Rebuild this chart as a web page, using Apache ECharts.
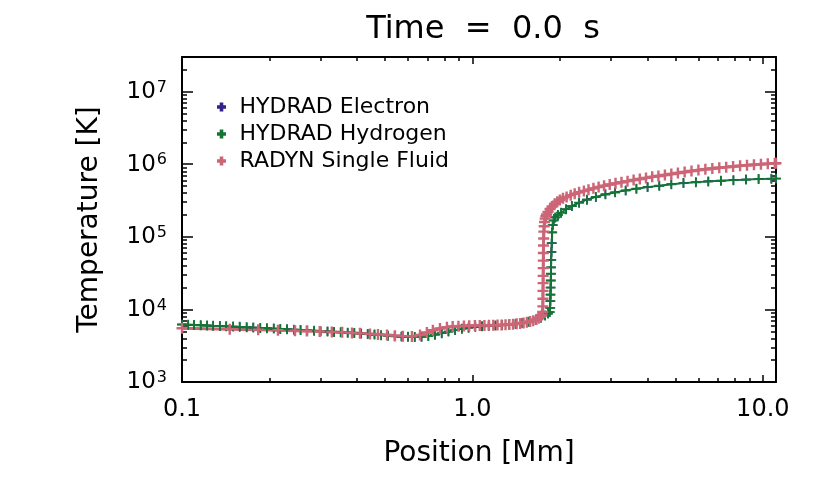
<!DOCTYPE html>
<html>
<head>
<meta charset="utf-8">
<script src="https://cdn.jsdelivr.net/npm/echarts@6/dist/echarts.min.js"></script>
<style>
html,body{margin:0;padding:0;background:#fff;}
#chart{width:830px;height:498px;}
</style>
</head>
<body>
<div id="chart"></div>
<script>
// ---------------- data ----------------
const titleText = 'Time  =  0.0  s';
const seriesNames = ['HYDRAD Electron', 'HYDRAD Hydrogen', 'RADYN Single Fluid'];

// HYDRAD grid positions [Mm]
const hydradPos = [0.100,0.105,0.110,0.116,0.122,0.128,0.135,0.142,0.150,0.158,
  0.167,0.176,0.186,0.196,0.207,0.218,0.230,0.243,0.256,0.270,
  0.285,0.300,0.317,0.334,0.352,0.372,0.392,0.414,0.436,0.460,
  0.485,0.512,0.540,0.570,0.600,0.633,0.668,0.705,0.743,0.784,
  0.827,0.872,0.920,0.970,1.023,1.079,1.138,1.200,1.266,1.335,
  1.408,1.485,1.566,1.652,1.720,1.780,1.820,1.845,
  1.852,1.855,1.857,1.859,1.861,1.863,1.865,1.868,1.871,1.875,
  1.882,1.890,1.905,1.930,1.970,2.020,2.100,2.200,2.330,2.480,
  2.660,2.870,3.100,3.370,3.670,4.010,4.400,4.840,5.330,5.880,
  6.490,7.170,7.920,8.750,9.670,10.70,11.10];
// HYDRAD hydrogen temperature [K]
const hydradHydrogenT = [6200,6150,6100,6050,6000,5950,5900,5850,5800,5750,
  5680,5620,5560,5500,5440,5380,5320,5260,5200,5140,
  5080,5020,4960,4900,4840,4780,4720,4650,4580,4500,
  4420,4340,4270,4220,4190,4180,4200,4300,4480,4700,
  4950,5200,5420,5600,5750,5850,5930,6000,6080,6180,
  6300,6480,6750,7150,7650,8250,8750,9200,
  10500,13000,16000,20000,25000,31000,38000,48000,62000,82000,
  115000,145000,168000,185000,200000,215000,240000,265000,295000,325000,
  355000,385000,410000,435000,460000,485000,505000,530000,550000,565000,
  580000,592000,603000,615000,625000,632000,635000];
// HYDRAD electron temperature [K] (identical to hydrogen at t = 0, hidden beneath it)
const hydradElectronT = [6200,6150,6100,6050,6000,5950,5900,5850,5800,5750,
  5680,5620,5560,5500,5440,5380,5320,5260,5200,5140,
  5080,5020,4960,4900,4840,4780,4720,4650,4580,4500,
  4420,4340,4270,4220,4190,4180,4200,4300,4480,4700,
  4950,5200,5420,5600,5750,5850,5930,6000,6080,6180,
  6300,6480,6750,7150,7650,8250,8750,9200,
  10500,13000,16000,20000,25000,31000,38000,48000,62000,82000,
  115000,145000,168000,185000,200000,215000,240000,265000,295000,325000,
  355000,385000,410000,435000,460000,485000,505000,530000,550000,565000,
  580000,592000,603000,615000,625000,632000,635000];

// RADYN grid positions [Mm]
const radynPos = [0.100,0.146,0.183,0.214,0.245,0.269,0.298,0.328,0.356,0.385,
  0.410,0.444,0.473,0.508,0.541,0.576,0.619,0.660,0.697,0.731,
  0.773,0.817,0.855,0.895,0.935,0.975,1.02,1.06,1.10,1.14,
  1.18,1.22,1.26,1.30,1.34,1.38,1.42,1.46,1.50,1.54,
  1.58,1.62,1.66,1.69,1.715,1.735,1.745,1.748,1.749,1.750,
  1.751,1.752,1.753,1.754,1.755,1.757,1.759,1.762,1.766,1.772,
  1.780,1.790,1.80,1.82,1.85,1.88,1.92,1.96,2.00,2.05,
  2.11,2.18,2.25,2.33,2.42,2.51,2.61,2.72,2.84,2.97,
  3.11,3.26,3.42,3.59,3.77,3.96,4.16,4.37,4.60,4.84,
  5.10,5.38,5.68,6.00,6.34,6.70,7.08,7.48,7.90,8.35,
  8.82,9.32,9.85,10.40,11.00,11.10];
// RADYN temperature [K]
const radynT = [5500,5350,5250,5180,5100,5040,4980,4900,4830,4750,
  4680,4600,4520,4430,4350,4280,4250,4450,4800,5150,
  5450,5700,5820,5880,5920,5950,5980,6000,6020,6040,
  6060,6080,6100,6140,6200,6260,6330,6420,6520,6640,
  6800,7000,7250,7550,7900,8400,9200,11000,14000,18000,
  23000,29000,37000,47000,60000,76000,95000,118000,140000,160000,
  178000,192000,203000,220000,242000,262000,285000,305000,322000,340000,
  355000,375000,392000,410000,428000,446000,465000,485000,505000,525000,
  545000,565000,585000,605000,625000,648000,670000,690000,712000,735000,
  758000,780000,805000,830000,852000,872000,892000,912000,930000,950000,
  968000,985000,1000000,1015000,1030000,1032000];

// axes
const xMin = 0.1, xMax = 11.1;
const yMin = 1e3, yMax = 3e7;
const xMajorTicks = [0.1, 1, 10];
const xTickLabels = ['0.1', '1.0', '10.0'];
const xMinorTicks = [0.2,0.3,0.4,0.5,0.6,0.7,0.8,0.9,2,3,4,5,6,7,8,9];
const yMajorTicks = [1e3, 1e4, 1e5, 1e6, 1e7];
const yTickExponents = ['3', '4', '5', '6', '7'];
const yMinorTicks = [2e3,3e3,4e3,5e3,6e3,7e3,8e3,9e3,2e4,3e4,4e4,5e4,6e4,7e4,8e4,9e4,
  2e5,3e5,4e5,5e5,6e5,7e5,8e5,9e5,2e6,3e6,4e6,5e6,6e6,7e6,8e6,9e6,2e7];
const colors = ['#332288', '#117733', '#CC6677'];

// ---------------- chart ----------------
const FONT = 'DejaVu Sans';
const plus = 'path://M3.9,0L6.1,0L6.1,3.9L10,3.9L10,6.1L6.1,6.1L6.1,10L3.9,10L3.9,6.1L0,6.1L0,3.9L3.9,3.9Z';
const plusThin = 'path://M4.1,0L5.9,0L5.9,4.1L10,4.1L10,5.9L5.9,5.9L5.9,10L4.1,10L4.1,5.9L0,5.9L0,4.1L4.1,4.1Z';
const legendIcon = 'path://M3,0L7,0L7,3L10,3L10,7L7,7L7,10L3,10L3,7L0,7L0,3L3,3Z';

function nearestIndex(arr, v) {
  let best = 0, bd = Infinity;
  arr.forEach((a, i) => { const d = Math.abs(Math.log(a) - Math.log(v)); if (d < bd) { bd = d; best = i; } });
  return best;
}

function xAxisDef(pos, major, showLabel) {
  return {
    type: 'log', logBase: 10, position: pos, min: xMin, max: xMax,
    axisLine: { show: major, lineStyle: { color: '#000', width: 2 } },
    axisTick: { show: true, inside: true, length: major ? 7 : 4,
      customValues: major ? xMajorTicks : xMinorTicks,
      lineStyle: { color: '#000', width: 1.5 } },
    axisLabel: showLabel ? {
      show: true, customValues: xMajorTicks, margin: 16,
      color: '#000', fontFamily: FONT, fontSize: 24,
      formatter: v => xTickLabels[nearestIndex(xMajorTicks, v)]
    } : { show: false },
    splitLine: { show: false },
    name: showLabel ? 'Position [Mm]' : '',
    nameLocation: 'middle', nameGap: 58,
    nameTextStyle: { color: '#000', fontFamily: FONT, fontSize: 28 }
  };
}
function yAxisDef(pos, major, showLabel) {
  return {
    type: 'log', logBase: 10, position: pos, min: yMin, max: yMax,
    axisLine: { show: major, lineStyle: { color: '#000', width: 2 } },
    axisTick: { show: true, inside: true, length: major ? 11 : 5,
      customValues: major ? yMajorTicks : yMinorTicks,
      lineStyle: { color: '#000', width: 1.5 } },
    axisLabel: showLabel ? {
      show: true, customValues: yMajorTicks, margin: 15,
      color: '#000', fontFamily: FONT,
      formatter: v => '{b|10}{s|' + yTickExponents[nearestIndex(yMajorTicks, v)] + '}',
      rich: {
        b: { fontFamily: FONT, fontSize: 23, color: '#000', verticalAlign: 'bottom', lineHeight: 24 },
        s: { fontFamily: FONT, fontSize: 16, color: '#000', verticalAlign: 'top', lineHeight: 16, padding: [0, 0, 18, 1] }
      }
    } : { show: false },
    splitLine: { show: false },
    name: showLabel ? 'Temperature [K]' : '',
    nameLocation: 'middle', nameGap: 78,
    nameTextStyle: { color: '#000', fontFamily: FONT, fontSize: 28 }
  };
}

function zip(xs, ys) { return xs.map((x, i) => [x, ys[i]]); }

const chart = echarts.init(document.getElementById('chart'), null, { renderer: 'canvas' });
chart.setOption({
  animation: false,
  backgroundColor: '#fff',
  title: {
    text: titleText, left: 478, top: 9, textAlign: 'center',
    textStyle: { color: '#000', fontFamily: FONT, fontSize: 32, fontWeight: 'normal' }
  },
  grid: { left: 182, right: 54, top: 57, bottom: 116, containLabel: false },
  legend: {
    orient: 'vertical', left: 212, top: 91, itemWidth: 26, itemHeight: 9, itemGap: 5,
    icon: legendIcon, symbolKeepAspect: true,
    textStyle: { color: '#000', fontFamily: FONT, fontSize: 22 },
    data: seriesNames
  },
  xAxis: [xAxisDef('bottom', true, true), xAxisDef('bottom', false, false),
          xAxisDef('top', true, false), xAxisDef('top', false, false)],
  yAxis: [yAxisDef('left', true, true), yAxisDef('left', false, false),
          yAxisDef('right', true, false), yAxisDef('right', false, false)],
  series: [
    { name: seriesNames[0], type: 'line', data: zip(hydradPos, hydradElectronT),
      symbol: plusThin, symbolSize: 9, showAllSymbol: true,
      lineStyle: { color: colors[0], width: 1.2 }, itemStyle: { color: colors[0] } },
    { name: seriesNames[1], type: 'line', data: zip(hydradPos, hydradHydrogenT),
      symbol: plusThin, symbolSize: 10, showAllSymbol: true,
      lineStyle: { color: colors[1], width: 1.8 }, itemStyle: { color: colors[1] } },
    { name: seriesNames[2], type: 'line', data: zip(radynPos, radynT),
      symbol: plus, symbolSize: 11, showAllSymbol: true,
      lineStyle: { color: colors[2], width: 3 }, itemStyle: { color: colors[2] } }
  ]
});
</script>
</body>
</html>
